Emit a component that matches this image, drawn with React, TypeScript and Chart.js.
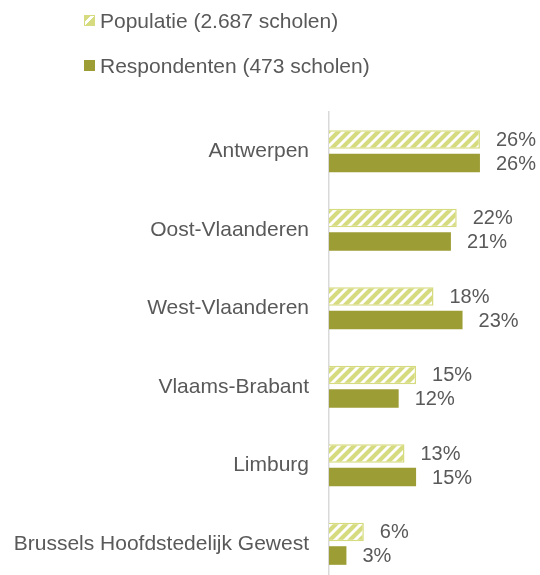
import React, { useEffect, useRef } from "react";
import { Chart, registerables } from "chart.js";

Chart.register(...registerables);

const categories = [
  "Antwerpen",
  "Oost-Vlaanderen",
  "West-Vlaanderen",
  "Vlaams-Brabant",
  "Limburg",
  "Brussels Hoofdstedelijk Gewest",
];
const populatie = [26, 22, 18, 15, 13, 6];
const respondenten = [26, 21, 23, 12, 15, 3];
const seriesNames = ["Populatie (2.687 scholen)", "Respondenten (473 scholen)"];

const LIGHT = "#d6db80";
const DARK = "#9d9d35";
const TEXT = "#595959";
const FONT = '"Liberation Sans", Arial, sans-serif';

function makeStripes(): CanvasPattern | string {
  const s = 10;
  const c = document.createElement("canvas");
  c.width = s;
  c.height = s;
  const ctx = c.getContext("2d");
  if (!ctx) return LIGHT;
  ctx.fillStyle = "#ffffff";
  ctx.fillRect(0, 0, s, s);
  ctx.strokeStyle = LIGHT;
  ctx.lineWidth = 4.2;
  ctx.lineCap = "square";
  ctx.beginPath();
  ctx.moveTo(-3, 3);
  ctx.lineTo(3, -3);
  ctx.moveTo(0, s);
  ctx.lineTo(s, 0);
  ctx.moveTo(s - 3, s + 3);
  ctx.lineTo(s + 3, s - 3);
  ctx.stroke();
  const p = ctx.createPattern(c, "repeat");
  return p || LIGHT;
}

const labelPlugin = {
  id: "valueLabels",
  afterDatasetsDraw(chart: any) {
    const ctx = chart.ctx;
    ctx.save();
    ctx.font = `20px ${FONT}`;
    ctx.fillStyle = TEXT;
    ctx.textAlign = "left";
    ctx.textBaseline = "middle";
    chart.data.datasets.forEach((ds: any, di: number) => {
      const meta = chart.getDatasetMeta(di);
      meta.data.forEach((el: any, i: number) => {
        ctx.fillText(`${ds.data[i]}%`, el.x + 16, el.y + 1);
      });
    });
    ctx.restore();
  },
};

export default function App() {
  const ref = useRef<HTMLCanvasElement | null>(null);

  useEffect(() => {
    document.body.style.margin = "0";
    if (!ref.current) return;
    const chart = new Chart(ref.current, {
      type: "bar",
      data: {
        labels: categories,
        datasets: [
          {
            label: seriesNames[0],
            data: populatie,
            backgroundColor: makeStripes() as any,
            borderColor: LIGHT,
            borderWidth: 1.5,
            categoryPercentage: 0.6,
            barPercentage: 0.79,
          },
          {
            label: seriesNames[1],
            data: respondenten,
            backgroundColor: DARK,
            borderWidth: 0,
            categoryPercentage: 0.6,
            barPercentage: 0.79,
          },
        ],
      },
      options: {
        indexAxis: "y",
        animation: false,
        responsive: false,
        layout: { padding: { top: 112, right: 2, bottom: 37, left: 0 } },
        plugins: {
          legend: { display: false },
          tooltip: { enabled: false },
        },
        scales: {
          x: { display: false, min: 0, max: 36 },
          y: {
            grid: { display: false, drawTicks: false },
            border: { display: true, color: "#d9d9d9", width: 1.5 },
            ticks: {
              padding: 20,
              color: TEXT,
              font: { family: FONT, size: 21 },
            },
            afterFit(scale: any) {
              scale.width = 329;
            },
          },
        },
      },
      plugins: [labelPlugin],
    });
    return () => chart.destroy();
  }, []);

  const legendText: React.CSSProperties = {
    position: "absolute",
    left: 100,
    fontFamily: FONT,
    fontSize: 21,
    lineHeight: "24px",
    color: TEXT,
    whiteSpace: "nowrap",
  };
  const box: React.CSSProperties = {
    position: "absolute",
    left: 84,
    width: 11,
    height: 11,
    boxSizing: "border-box",
  };

  return (
    <div
      style={{
        position: "absolute",
        left: 0,
        top: 0,
        width: 540,
        height: 575,
        overflow: "hidden",
        background: "#ffffff",
      }}
    >
      <canvas ref={ref} width={540} height={620} style={{ position: "absolute", left: 0, top: 0 }} />
      <div
        style={{
          ...box,
          top: 15,
          border: `1.5px solid ${LIGHT}`,
          background: `linear-gradient(135deg, ${LIGHT} 0%, ${LIGHT} 30%, #ffffff 30%, #ffffff 55%, ${LIGHT} 55%, ${LIGHT} 100%)`,
        }}
      />
      <div style={{ ...legendText, top: 9 }}>{seriesNames[0]}</div>
      <div style={{ ...box, top: 60, background: DARK }} />
      <div style={{ ...legendText, top: 54 }}>{seriesNames[1]}</div>
    </div>
  );
}
